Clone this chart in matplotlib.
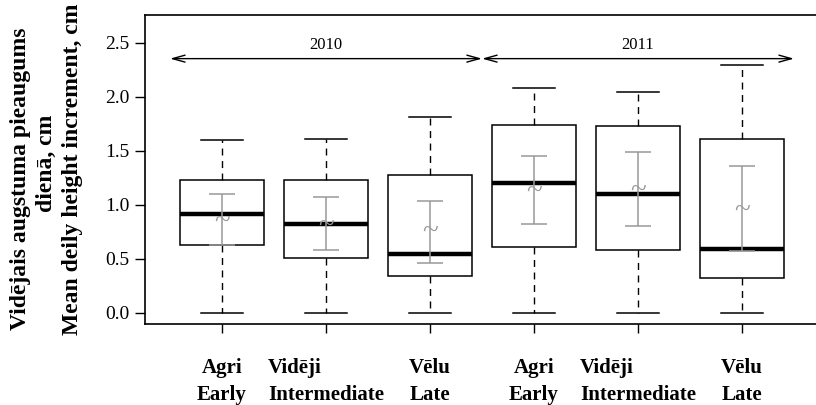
import numpy as np
import matplotlib.pyplot as plt

plt.rcParams['font.family'] = ['Liberation Serif', 'DejaVu Serif']

# dati nolasīti no attēla
grupas = ['Agri\nEarly', 'Vidēji\nIntermediate', 'Vēlu\nLate',
          'Agri\nEarly', 'Vidēji\nIntermediate', 'Vēlu\nLate']
whis_lo = [0.0, 0.0, 0.0, 0.0, 0.0, 0.0]
q1 = [0.63, 0.51, 0.34, 0.61, 0.58, 0.32]
mediana = [0.92, 0.82, 0.55, 1.20, 1.10, 0.59]
q3 = [1.23, 1.23, 1.28, 1.74, 1.73, 1.61]
whis_hi = [1.60, 1.61, 1.81, 2.08, 2.05, 2.30]
# vidējais un intervāls (pelēks)
videjais = [0.83, 0.80, 0.74, 1.11, 1.12, 0.94]
int_lo = [0.63, 0.58, 0.46, 0.82, 0.81, 0.57]
int_hi = [1.10, 1.07, 1.04, 1.45, 1.49, 1.36]
gadi = ['2010', '2011']
gadu_robezas = [(0.5, 3.5), (3.5, 6.5)]

fig = plt.figure(figsize=(8.16, 4.05), dpi=100)
ax = fig.add_axes([145 / 816, 81 / 405, 674 / 816, 309 / 405])

poz = np.arange(1, len(grupas) + 1)
stats = []
for i in range(len(grupas)):
    stats.append(dict(whislo=whis_lo[i], q1=q1[i], med=mediana[i],
                      q3=q3[i], whishi=whis_hi[i], fliers=[]))

ax.bxp(stats, positions=poz, widths=0.8, capwidths=0.4, showfliers=False,
       patch_artist=True,
       boxprops=dict(facecolor='white', edgecolor='black', linewidth=1.1),
       medianprops=dict(color='black', linewidth=3.2, solid_capstyle='butt'),
       whiskerprops=dict(color='black', linewidth=1.0, linestyle=(0, (5, 4))),
       capprops=dict(color='black', linewidth=1.1))

# pelēkie intervāli un vidējais
m = np.array(videjais)
yerr = [m - np.array(int_lo), np.array(int_hi) - m]
ax.errorbar(poz, m, yerr=yerr, fmt='none', ecolor='#999999',
            elinewidth=1.1, capsize=9.5, capthick=1.1, zorder=5)
for x, y in zip(poz, videjais):
    ax.text(x, y, '~', color='#999999', fontsize=21, ha='center',
            va='center', zorder=6)

# gadu bultas
for gads, (a, b) in zip(gadi, gadu_robezas):
    ax.annotate('', xy=(a, 2.355), xytext=(b, 2.355),
                arrowprops=dict(arrowstyle='<->,head_length=0.9,head_width=0.25',
                                color='black', lw=1.0, shrinkA=0, shrinkB=0))
    ax.text((a + b) / 2, 2.48, gads, fontsize=12, ha='center', va='center')

ax.set_xlim(0.26, 6.74)
ax.set_ylim(-0.102, 2.759)
ax.set_yticks([0.0, 0.5, 1.0, 1.5, 2.0, 2.5])
ax.set_yticklabels(['0.0', '0.5', '1.0', '1.5', '2.0', '2.5'], fontsize=14)
ax.set_xticks(poz)
ax.set_xticklabels(grupas, fontsize=15, fontweight='bold', linespacing=1.45)
for lab in ax.get_xticklabels():
    if lab.get_text().startswith('Vid'):
        lab.set_multialignment('left')
ax.tick_params(axis='y', length=7, width=1, pad=4)
ax.tick_params(axis='x', length=6.5, width=1, pad=18)
for s in ax.spines.values():
    s.set_linewidth(1.2)

fig.text(21 / 816, 1 - 179 / 405, 'Vidējais augstuma pieaugums', rotation=90,
         fontsize=17, fontweight='bold', ha='center', va='center')
fig.text(46 / 816, 1 - 163 / 405, 'dienā, cm', rotation=90,
         fontsize=17, fontweight='bold', ha='center', va='center')
fig.text(73 / 816, 1 - 169 / 405, 'Mean deily height increment, cm', rotation=90,
         fontsize=17, fontweight='bold', ha='center', va='center')

fig.savefig('out.png', dpi=100)
